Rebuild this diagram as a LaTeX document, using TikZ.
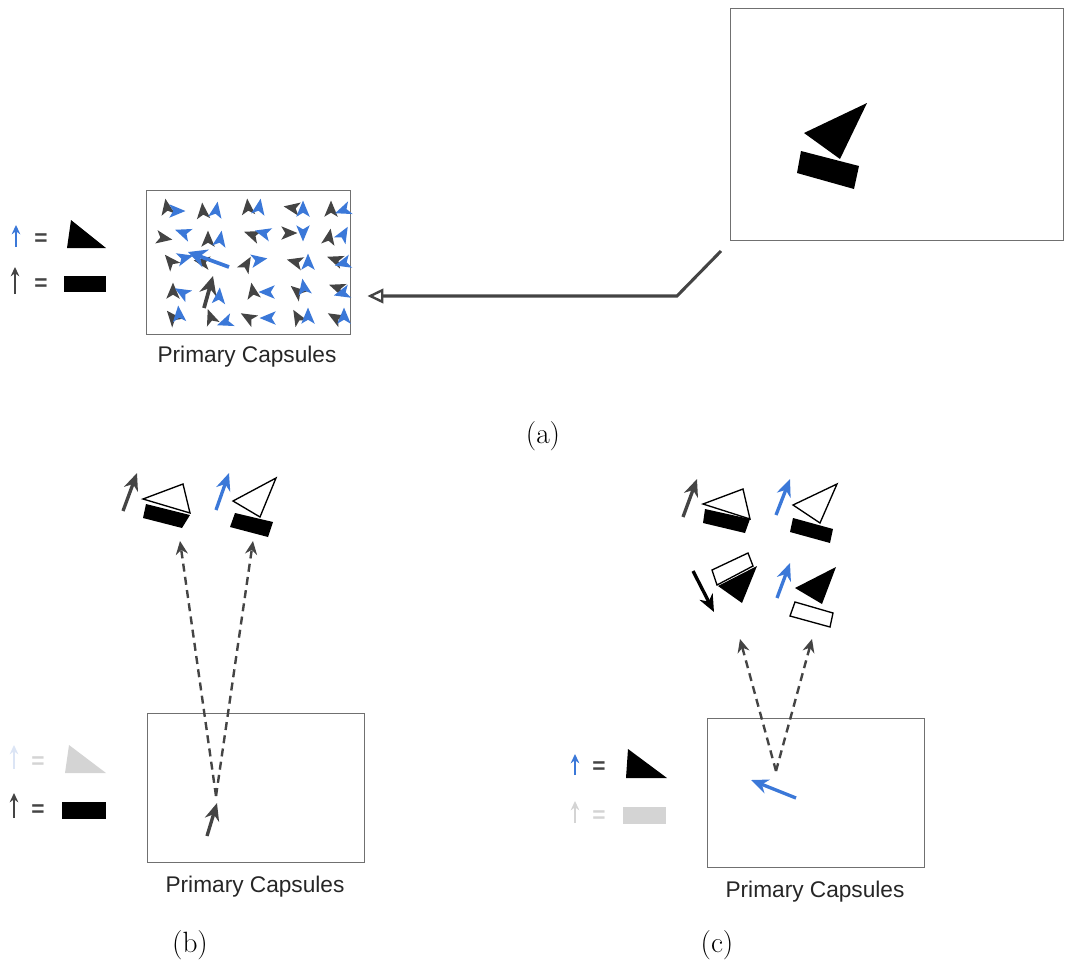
\documentclass[tikz,border=0pt]{standalone}
\usepackage{fontspec}
\setsansfont{Liberation Sans}
\usetikzlibrary{arrows.meta}
\definecolor{capblue}{HTML}{3B78D8}
\definecolor{capgray}{HTML}{444444}
\definecolor{boxgray}{HTML}{707070}
\definecolor{fadeblue}{HTML}{DCE5F5}
\definecolor{fadegray}{HTML}{D4D4D4}
\newcommand\dartat[4]{\fill[#4, shift={(#1,#2)}, rotate=#3, scale=1.35] (7,0) -- (-5,5) -- (-2,0) -- (-5,-5) -- cycle;}
\tikzset{
  pbox/.style={draw=boxgray, line width=1.1pt, inner sep=0pt, anchor=north west, minimum width=162.75pt, minimum height=111.75pt},
  pcap/.style={font=\sffamily\fontsize{17}{20}\selectfont, text=black!85, inner sep=0pt},
  sublabel/.style={font=\fontsize{22}{25}\selectfont, inner sep=0pt},
  eqsign/.style={font=\sffamily\bfseries\fontsize{17}{19}\selectfont, inner sep=0pt},
  legarrow/.style={line width=1.6pt, -{Stealth[length=7pt,width=6.5pt]}},
  caparrow/.style={line width=2.5pt, -{Stealth[length=13pt,width=11pt]}},
  dasharrow/.style={draw=capgray, line width=1.8pt, dash pattern=on 6pt off 4pt, -{Stealth[length=10pt,width=9pt]}},
  conn/.style={draw=capgray, line width=2.3pt, -{Triangle[open,length=12pt,width=11pt,line width=1.8pt]}},
}
\begin{document}
\begin{tikzpicture}[x=0.75pt,y=-0.75pt]
\useasboundingbox (0,0) rectangle (1065,968);

% ---------------- (a) ----------------
% legend
\draw[legarrow, capblue] (16,247) -- (16,225);
\node[eqsign, text=capgray] (eqa1) at (41,240) {=};
\fill[black] (67,248) -- (106,248) -- (71,220) -- cycle;
\draw[legarrow, capgray] (15,294) -- (15,267);
\node[eqsign, text=capgray] (eqa2) at (41,285) {=};
\fill[black] (64,276) rectangle (106,292);

% primary capsules grid
\node[pbox, minimum width=153pt, minimum height=108pt] (grid) at (146,190) {};
\node[pcap] (capa) at (247,357) {Primary Capsules};
% row 1
\dartat{167}{208}{100}{capgray} \dartat{176}{211}{0}{capblue}
\dartat{203}{212}{95}{capgray} \dartat{216}{211}{80}{capblue}
\dartat{248}{208}{95}{capgray} \dartat{259}{208}{80}{capblue}
\dartat{293}{208}{170}{capgray} \dartat{303}{210}{90}{capblue}
\dartat{331}{210}{90}{capgray} \dartat{344}{210}{200}{capblue}
% row 2
\dartat{163}{238}{-10}{capgray} \dartat{184}{233}{160}{capblue}
\dartat{208}{240}{90}{capgray} \dartat{220}{240}{80}{capblue}
\dartat{253}{235}{160}{capgray} \dartat{264}{233}{165}{capblue}
\dartat{288}{233}{0}{capgray} \dartat{303}{232}{270}{capblue}
\dartat{329}{238}{80}{capgray} \dartat{343}{235}{60}{capblue}
% row 3
\dartat{171}{262}{130}{capgray} \dartat{184}{258}{15}{capblue}
\dartat{203}{262}{170}{capgray}
\draw[capblue, line width=2.8pt, -{Stealth[length=14pt,width=14pt]}] (229,267) -- (188,252);
\dartat{246}{265}{60}{capgray} \dartat{258}{260}{10}{capblue}
\dartat{296}{262}{165}{capgray} \dartat{308}{263}{90}{capblue}
\dartat{336}{260}{160}{capgray} \dartat{344}{263}{195}{capblue}
% row 4
\dartat{173}{292}{90}{capgray} \dartat{183}{293}{150}{capblue}
\draw[capgray, line width=2.8pt, -{Stealth[length=14pt,width=13pt]}] (204,308) -- (213,276);
\dartat{219}{297}{85}{capblue}
\dartat{253}{292}{100}{capgray} \dartat{268}{292}{180}{capblue}
\dartat{298}{292}{140}{capgray} \dartat{304}{288}{100}{capblue}
\dartat{338}{288}{160}{capgray} \dartat{343}{293}{195}{capblue}
% row 5
\dartat{173}{318}{130}{capgray} \dartat{179}{315}{95}{capblue}
\dartat{211}{318}{110}{capgray} \dartat{226}{322}{200}{capblue}
\dartat{249}{318}{150}{capgray} \dartat{269}{318}{180}{capblue}
\dartat{298}{318}{120}{capgray} \dartat{308}{317}{90}{capblue}
\dartat{336}{318}{150}{capgray} \dartat{344}{317}{90}{capblue}

% image box
\node[pbox, minimum width=249.75pt, minimum height=174pt] (img) at (730,8) {};
\fill[black] (867,103) -- (804,133) -- (840,159) -- cycle;
\fill[black] (801,151) -- (859,166) -- (854,189) -- (797,173) -- cycle;

% connector
\coordinate (cstart) at (721,251);
\coordinate (cbend) at (677,296);
\coordinate (cend) at (grid.east |- cbend);
\draw[conn, shorten >=12pt] (cstart) -- (cbend) -- (cend);

\node[sublabel] (la) at (543,436) {(a)};

% ---------------- (b) ----------------
\draw[legarrow, fadeblue] (14,769) -- (14,745);
\node[eqsign, text=fadegray] (eqb1) at (38,763) {=};
\fill[fadegray] (65,773) -- (106,773) -- (69,745) -- cycle;
\draw[legarrow, capgray] (14,818) -- (14,793);
\node[eqsign, text=capgray] (eqb2) at (38,811) {=};
\fill[black] (62,802) rectangle (106,819);

\node[pbox] (boxb) at (147,713) {};
\node[pcap] (capb) at (255,887) {Primary Capsules};
\draw[caparrow, capgray] (207,836) -- (217,803);
\coordinate (bo) at (216,796);
\coordinate (bl) at (180,541);
\coordinate (br) at (253,541);
\draw[dasharrow] (bo) -- (bl);
\draw[dasharrow] (bo) -- (br);

% top shapes (b)
\draw[caparrow, capgray] (123,511) -- (137,473);
\draw[black, line width=1pt] (143,499) -- (183,484) -- (190,513) -- cycle;
\fill[black] (146,504) -- (190,515) -- (182,528) -- (143,518) -- cycle;
\draw[caparrow, capblue] (216,510) -- (229,473);
\draw[black, line width=1pt] (233,501) -- (276,478) -- (260,517) -- cycle;
\fill[black] (235,513) -- (273,522) -- (268,537) -- (230,527) -- cycle;

\node[sublabel] (lb) at (190,945) {(b)};

% ---------------- (c) ----------------
\draw[legarrow, capblue] (575,775) -- (575,754);
\node[eqsign, text=capgray] (eqc1) at (599,768) {=};
\fill[black] (626,778) -- (667,778) -- (628,749) -- cycle;
\draw[legarrow, fadegray] (575,823) -- (575,801);
\node[eqsign, text=fadegray] (eqc2) at (599,817) {=};
\fill[fadegray] (623,807) rectangle (666,824);

\node[pbox] (boxc) at (707,718) {};
\node[pcap] (capc) at (815,892) {Primary Capsules};
\draw[caparrow, capblue] (796,798) -- (751,780);
\coordinate (co) at (776,771);
\coordinate (cl) at (740,639);
\coordinate (cr) at (812,639);
\draw[dasharrow] (co) -- (cl);
\draw[dasharrow] (co) -- (cr);

% top shapes (c)
\draw[caparrow, capgray] (683,517) -- (697,479);
\draw[black, line width=1pt] (703,504) -- (743,489) -- (750,519) -- cycle;
\fill[black] (705,509) -- (750,519) -- (745,533) -- (703,523) -- cycle;
\draw[caparrow, capblue] (776,515) -- (790,479);
\draw[black, line width=1pt] (793,505) -- (837,484) -- (820,523) -- cycle;
\fill[black] (793,518) -- (833,529) -- (830,543) -- (790,532) -- cycle;
\draw[caparrow, black] (693,571) -- (714,612);
\draw[black, line width=1pt] (712,570) -- (748,553) -- (753,566) -- (717,585) -- cycle;
\fill[black] (718,586) -- (757,566) -- (742,603) -- cycle;
\draw[caparrow, capblue] (777,598) -- (790,563);
\fill[black] (795,588) -- (836,567) -- (822,604) -- cycle;
\draw[black, line width=1pt] (795,602) -- (833,613) -- (830,627) -- (790,616) -- cycle;

\node[sublabel] (lc) at (717,945) {(c)};
\end{tikzpicture}
\end{document}
